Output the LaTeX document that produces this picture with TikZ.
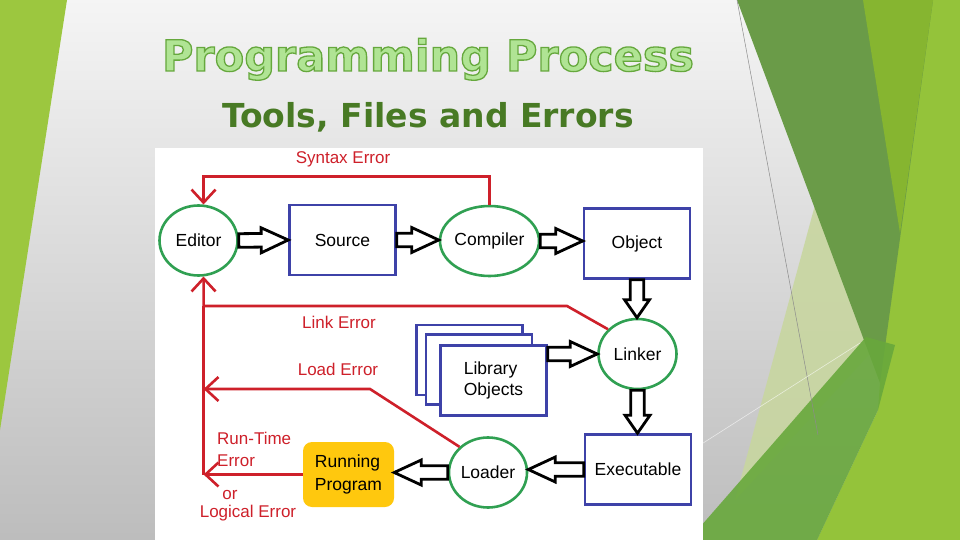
\documentclass[tikz,border=0pt]{standalone}
\usepackage{fontspec}
\setmainfont{Liberation Sans}
\newfontfamily\headfont{DejaVu Sans}
\usetikzlibrary{arrows.meta,shapes.geometric,calc}

\definecolor{toolgreen}{RGB}{48,160,82}
\definecolor{fileblue}{RGB}{62,66,168}
\definecolor{errred}{RGB}{206,32,42}
\definecolor{runyellow}{RGB}{255,200,14}
\definecolor{titlefill}{RGB}{176,228,148}
\definecolor{subgreen}{RGB}{72,122,36}
\definecolor{leafgreen}{RGB}{156,199,63}
\definecolor{limegreen}{RGB}{148,195,58}
\definecolor{mossgreen}{RGB}{106,155,72}
\definecolor{olivegreen}{RGB}{134,181,48}
\definecolor{midgreen}{RGB}{104,168,60}
\definecolor{palegreen}{RGB}{200,214,160}

% outlined title text (fill, then stroke)
\newcommand\outlined[1]{%
  \special{pdf:literal direct 2 Tr 1.3 w 0.40 0.66 0.24 RG}#1\special{pdf:literal direct 0 Tr}}

% hollow block arrow: [head length]{tail}{tip}
\newcommand\fatarrow[3][27]{%
  \coordinate (fa) at ($(#3)!#1pt!(#2)$);
  \draw[hollow] ($(#2)!6.8pt!90:(#3)$) -- ($(fa)!6.8pt!90:(#3)$) --
    ($(fa)!12.5pt!90:(#3)$) -- (#3) -- ($(fa)!12.5pt!-90:(#3)$) --
    ($(fa)!6.8pt!-90:(#3)$) -- ($(#2)!6.8pt!-90:(#3)$) -- cycle;}

\begin{document}
\begin{tikzpicture}[
  x=1pt,
  y=-1pt,
  tool/.style={ellipse,draw=toolgreen,line width=2.6pt,fill=white,
    minimum width=78pt,minimum height=70pt,inner sep=0pt,font=\fontsize{17.5}{21}\selectfont},
  file/.style={rectangle,draw=fileblue,line width=2.6pt,fill=white,
    minimum width=106pt,minimum height=70pt,font=\fontsize{17.5}{21}\selectfont},
  run/.style={rectangle,rounded corners=9pt,fill=runyellow,minimum width=91pt,
    minimum height=65pt,align=left,font=\fontsize{17.5}{23}\selectfont},
  hollow/.style={draw=black,fill=white,line width=2.8pt,line join=miter},
  errline/.style={draw=errred,line width=2.6pt},
  errarrow/.style={errline,-{Straight Barb[length=13pt,width=24pt]}},
  errlab/.style={text=errred,inner sep=0pt,font=\fontsize{17}{22}\selectfont}
]
\useasboundingbox (0,0) rectangle (960,540);
\shade[top color=black!4,bottom color=black!26] (0,0) rectangle (960,540);

\fill[leafgreen] (0,0) -- (67,0) -- (0,430) -- cycle;
\fill[limegreen] (880,0) -- (960,0) -- (960,540) -- (817,540) -- (878,410) -- (880,383) -- cycle;
\fill[palegreen,opacity=0.9] (735,500) -- (815,205) -- (878,345) -- cycle;
\fill[mossgreen] (737,0) -- (933,0) -- (880,383) -- cycle;
\fill[olivegreen] (863,0) -- (933,0) -- (900,233) -- cycle;
\fill[midgreen,opacity=0.9] (700,527) -- (866,337) -- (895,345) --
  (878,410) -- (817,540) -- (700,540) -- cycle;
\draw[black!45,line width=0.5pt] (737,0) -- (818,435);
\draw[white,opacity=0.6,line width=0.6pt] (700,445) -- (860,343);

\node[anchor=base,text=titlefill,font=\headfont\bfseries\fontsize{43}{48}\selectfont]
  (title) at (428,71) {\outlined{Programming Process}};
\node[anchor=base,text=subgreen,font=\headfont\bfseries\fontsize{33}{38}\selectfont]
  (subtitle) at (428,128) {Tools, Files and Errors};

\fill[white] (155,148) rectangle (703,540);

\node[tool] (editor) at (198.5,240.5) {Editor};
\node[file] (source) at (342.5,240) {Source};
\node[tool] (compiler) at (489.5,241) {Compiler};
\node[file] (object) at (637,243.5) {Object};
\node[tool] (linker) at (637.5,354) {Linker};
\node[file] (exec) at (638,469.5) {Executable};
\node[tool] (loader) at (488,472.5) {Loader};
\node[run] (run) at (348.5,474.5) {Running\\Program};
\node[file] (libback) at (469.5,360) {};
\node[file] (libmid) at (479,369.5) {};
\node[file,align=left] (lib) at (493.5,380.5) {Library\\Objects};

\fatarrow{editor.east}{source.west}
\fatarrow{source.east}{source.east -| compiler.west}
\fatarrow{compiler.east}{compiler.east -| object.west}
\fatarrow[18]{object.south}{object.south |- linker.north}
\fatarrow{lib.east |- linker.west}{linker.west}
\fatarrow[18]{linker.south}{linker.south |- exec.north}
\fatarrow{exec.west}{exec.west -| loader.east}
\fatarrow{loader.west}{loader.west -| run.east}

\coordinate (lk) at (567,306);
\coordinate (ld) at (370,389);
\draw[errarrow] (compiler.north) -- ++(0,-28) -| (editor.82);
\draw[errarrow] (linker.140) -- (lk) -| (editor.278);
\draw[errline] (lk -| editor.278) -- (run.west -| editor.278);
\draw[errarrow] (loader.138) -- (ld) -- (ld -| editor.278);
\draw[errarrow] (run.west) -- (run.west -| editor.278);

\node[errlab] (syntaxlab) at (343,159) {Syntax Error};
\node[errlab] (linklab) at (339,322) {Link Error};
\node[errlab] (loadlab) at (338,369) {Load Error};
\node[errlab,anchor=west,align=left] (runlab) at (217,449) {Run-Time\\Error};
\node[errlab] (orlab) at (230,495) {or};
\node[errlab] (logiclab) at (248,513) {Logical Error};
\end{tikzpicture}
\end{document}
